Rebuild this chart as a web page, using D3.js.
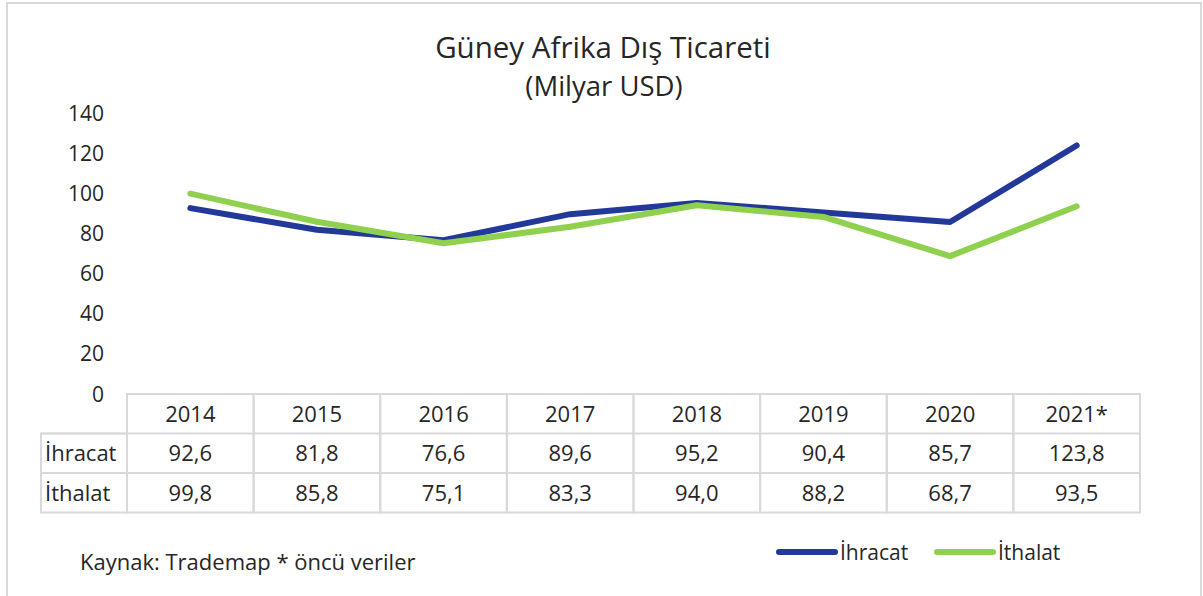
<!DOCTYPE html>
<html>
<head>
<meta charset="utf-8">
<script src="https://cdn.jsdelivr.net/npm/d3@7"></script>
<style>
  body { margin: 0; background: #fff; }
  svg { font-family: "Open Sans", sans-serif; }
</style>
</head>
<body>
<svg id="chart" width="1203" height="596"></svg>
<script>
const years = ["2014", "2015", "2016", "2017", "2018", "2019", "2020", "2021*"];
const ihracat = [92.6, 81.8, 76.6, 89.6, 95.2, 90.4, 85.7, 123.8];
const ithalat = [99.8, 85.8, 75.1, 83.3, 94.0, 88.2, 68.7, 93.5];
const yTicks = [0, 20, 40, 60, 80, 100, 120, 140];

const series = [
    { name: "İhracat", values: ihracat, color: "#22399a" },
    { name: "İthalat", values: ithalat, color: "#8fd14f" }
];

const fmt = v => d3.format(".1f")(v).replace(".", ",");

const svg = d3.select("#chart");
const textColor = "#262626";
const gridColor = "#d9d9d9";

// outer frame
svg.append("rect")
    .attr("x", 7).attr("y", 3)
    .attr("width", 1194).attr("height", 600)
    .attr("fill", "none")
    .attr("stroke", gridColor)
    .attr("stroke-width", 2);

// title
svg.append("text")
    .attr("x", 603).attr("y", 58)
    .attr("text-anchor", "middle")
    .attr("font-size", 29.5)
    .attr("fill", textColor)
    .text("Güney Afrika Dış Ticareti");
svg.append("text")
    .attr("x", 604).attr("y", 96)
    .attr("text-anchor", "middle")
    .attr("font-size", 27.5)
    .attr("fill", textColor)
    .text("(Milyar USD)");

const x = d3.scaleBand().domain(years).range([127, 1140]);
const y = d3.scaleLinear().domain([0, 140]).range([394, 113]);

// y axis labels only
const yAxis = svg.append("g")
    .attr("transform", "translate(104,0)")
    .call(d3.axisLeft(y).tickValues(yTicks).tickSize(0).tickPadding(0));
yAxis.select(".domain").remove();
yAxis.selectAll("text")
    .attr("font-family", "'Open Sans', sans-serif")
    .attr("font-size", 21)
    .attr("fill", textColor)
    .attr("dy", "0.34em");

// lines
const line = d3.line()
    .x((d, i) => x(years[i]) + x.bandwidth() / 2)
    .y(d => y(d));

svg.selectAll(".series")
    .data(series)
    .enter()
    .append("path")
    .attr("class", "series")
    .attr("d", d => line(d.values))
    .attr("fill", "none")
    .attr("stroke", d => d.color)
    .attr("stroke-width", 6)
    .attr("stroke-linecap", "round")
    .attr("stroke-linejoin", "round");

// data table
const rowH = 39.5;
const tableTop = 394;
const labelLeft = 41;
const cellFont = 22;
const table = svg.append("g");

years.forEach(yr => {
    table.append("rect")
        .attr("x", x(yr)).attr("y", tableTop)
        .attr("width", x.bandwidth()).attr("height", rowH * 3)
        .attr("fill", "none")
        .attr("stroke", gridColor).attr("stroke-width", 2);
    table.append("text")
        .attr("x", x(yr) + x.bandwidth() / 2)
        .attr("y", tableTop + rowH / 2)
        .attr("dy", "0.36em")
        .attr("text-anchor", "middle")
        .attr("font-size", cellFont)
        .attr("fill", textColor)
        .text(yr);
});

// row label column
table.append("rect")
    .attr("x", labelLeft).attr("y", tableTop + rowH)
    .attr("width", 127 - labelLeft).attr("height", rowH * 2)
    .attr("fill", "none")
    .attr("stroke", gridColor).attr("stroke-width", 2);

[1, 2].forEach(r => {
    table.append("line")
        .attr("x1", labelLeft).attr("x2", 1140)
        .attr("y1", tableTop + rowH * r).attr("y2", tableTop + rowH * r)
        .attr("stroke", gridColor).attr("stroke-width", 2);
});

series.forEach((s, r) => {
    const cy = tableTop + rowH * (r + 1) + rowH / 2;
    table.append("text")
        .attr("x", labelLeft + 4).attr("y", cy)
        .attr("dy", "0.36em")
        .attr("font-size", cellFont)
        .attr("fill", textColor)
        .text(s.name);
    s.values.forEach((v, i) => {
        table.append("text")
            .attr("x", x(years[i]) + x.bandwidth() / 2)
            .attr("y", cy)
            .attr("dy", "0.36em")
            .attr("text-anchor", "middle")
            .attr("font-size", cellFont)
            .attr("fill", textColor)
            .text(fmt(v));
    });
});

// source note
svg.append("text")
    .attr("x", 80).attr("y", 570)
    .attr("font-size", 22)
    .attr("fill", textColor)
    .text("Kaynak: Trademap * öncü veriler");

// legend
const legendX = [779, 937];
const legend = svg.selectAll(".legend")
    .data(series)
    .enter()
    .append("g")
    .attr("class", "legend")
    .attr("transform", (d, i) => `translate(${legendX[i]},552)`);
legend.append("line")
    .attr("x1", 0).attr("x2", 56)
    .attr("stroke", d => d.color)
    .attr("stroke-width", 6)
    .attr("stroke-linecap", "round");
legend.append("text")
    .attr("x", 61).attr("dy", "0.36em")
    .attr("font-size", 21)
    .attr("fill", textColor)
    .text(d => d.name);
</script>
</body>
</html>
